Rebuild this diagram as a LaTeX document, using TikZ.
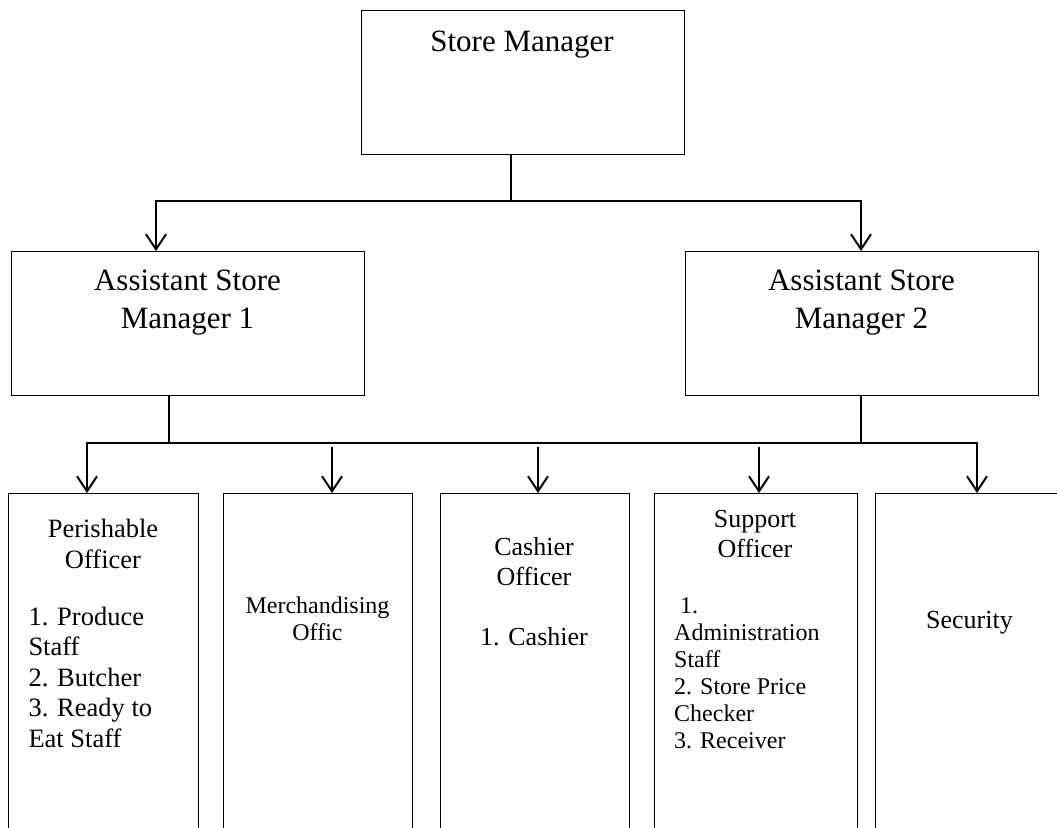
\documentclass[tikz,border=0pt]{standalone}
\usepackage{fontspec}
\setmainfont{Liberation Serif}
\usetikzlibrary{arrows.meta}
\begin{document}
\begin{tikzpicture}[x=1pt,y=-1pt,
  box/.style={draw, line width=1.3pt, inner sep=0pt, anchor=north west},
  conn/.style={line width=2pt},
  arr/.style={conn, -{Straight Barb[length=15pt,width=20pt]}},
  big/.style={font=\fontsize{31}{38}\selectfont, inner sep=0pt},
  mid/.style={font=\fontsize{26.5}{31}\selectfont, inner sep=0pt},
  lst/.style={font=\fontsize{26.5}{30.5}\selectfont, inner sep=0pt},
  sml/.style={font=\fontsize{24}{27.5}\selectfont, inner sep=0pt},
  sup/.style={font=\fontsize{24}{27}\selectfont, inner sep=0pt},
]
\useasboundingbox (0,0) rectangle (1057,827);
\clip (0,0) rectangle (1057,827);
% boxes
\node[box, minimum width=323pt, minimum height=144pt] (SM) at (361,10) {};
\node[box, minimum width=353pt, minimum height=144pt] (A1) at (11,251) {};
\node[box, minimum width=353pt, minimum height=144pt] (A2) at (685,251) {};
\node[box, minimum width=190pt, minimum height=420pt] (P) at (8,493) {};
\node[box, minimum width=189pt, minimum height=420pt] (M) at (223,493) {};
\node[box, minimum width=189pt, minimum height=420pt] (C) at (440,493) {};
\node[box, minimum width=203pt, minimum height=420pt] (S) at (654,493) {};
\node[box, minimum width=210pt, minimum height=420pt] (Sec) at (875,493) {};
% texts
\node[big, anchor=base] (tSM) at (522,51) {Store Manager};
\node[big, anchor=base] (tA1) at (187.5,290) {\begin{tabular}[t]{@{}c@{}}Assistant Store\\Manager 1\end{tabular}};
\node[big, anchor=base] (tA2) at (861.5,290) {\begin{tabular}[t]{@{}c@{}}Assistant Store\\Manager 2\end{tabular}};
\node[mid, anchor=base] (tP) at (103,537) {\begin{tabular}[t]{@{}c@{}}Perishable\\Officer\end{tabular}};
\node[lst, anchor=base west] (lP) at (28.3,625) {\begin{tabular}[t]{@{}l@{}}1. Produce\\Staff\\2. Butcher\\3. Ready to\\Eat Staff\end{tabular}};
\node[sml, anchor=base] (tM) at (317.5,613) {\begin{tabular}[t]{@{}c@{}}Merchandising\\Offic\end{tabular}};
\node[font=\fontsize{26}{30}\selectfont, inner sep=0pt, anchor=base] (tC) at (534,555) {\begin{tabular}[t]{@{}c@{}}Cashier\\Officer\\ \\1. Cashier\end{tabular}};
\node[font=\fontsize{26}{30}\selectfont, inner sep=0pt, anchor=base] (tS) at (755,527) {\begin{tabular}[t]{@{}c@{}}Support\\Officer\end{tabular}};
\node[sup, anchor=base west] (lS) at (674,613) {\begin{tabular}[t]{@{}l@{}}\hspace{6pt}1.\\Administration\\Staff\\2. Store Price\\Checker\\3. Receiver\end{tabular}};
\node[font=\fontsize{26}{30}\selectfont, inner sep=0pt, anchor=base] (tSec) at (969.5,628) {Security};
% connectors level 1
\coordinate (j1) at (511,201);
\coordinate (x1) at (156,0);
\coordinate (x2) at (861,0);
\draw[conn] (SM.south -| j1) -- (j1);
\draw[arr] (j1) -| (x1 |- A1.north);
\draw[arr] (j1) -| (x2 |- A2.north);
% connectors level 2
\coordinate (j2) at (169,443);
\coordinate (j3) at (861,443);
\coordinate (xp) at (87,0);
\coordinate (xs) at (977,0);
\coordinate (m0) at (332,446.5);
\coordinate (c0) at (538,446.5);
\coordinate (s0) at (759,446.5);
\draw[conn] (A1.south -| j2) -- (j2);
\draw[conn] (A2.south -| j3) -- (j3);
\draw[conn] (j2) -- (j3);
\draw[arr] (j2) -| (xp |- P.north);
\draw[arr] (j3) -| (xs |- Sec.north);
\draw[arr] (m0) -- (m0 |- M.north);
\draw[arr] (c0) -- (c0 |- C.north);
\draw[arr] (s0) -- (s0 |- S.north);
\end{tikzpicture}
\end{document}
